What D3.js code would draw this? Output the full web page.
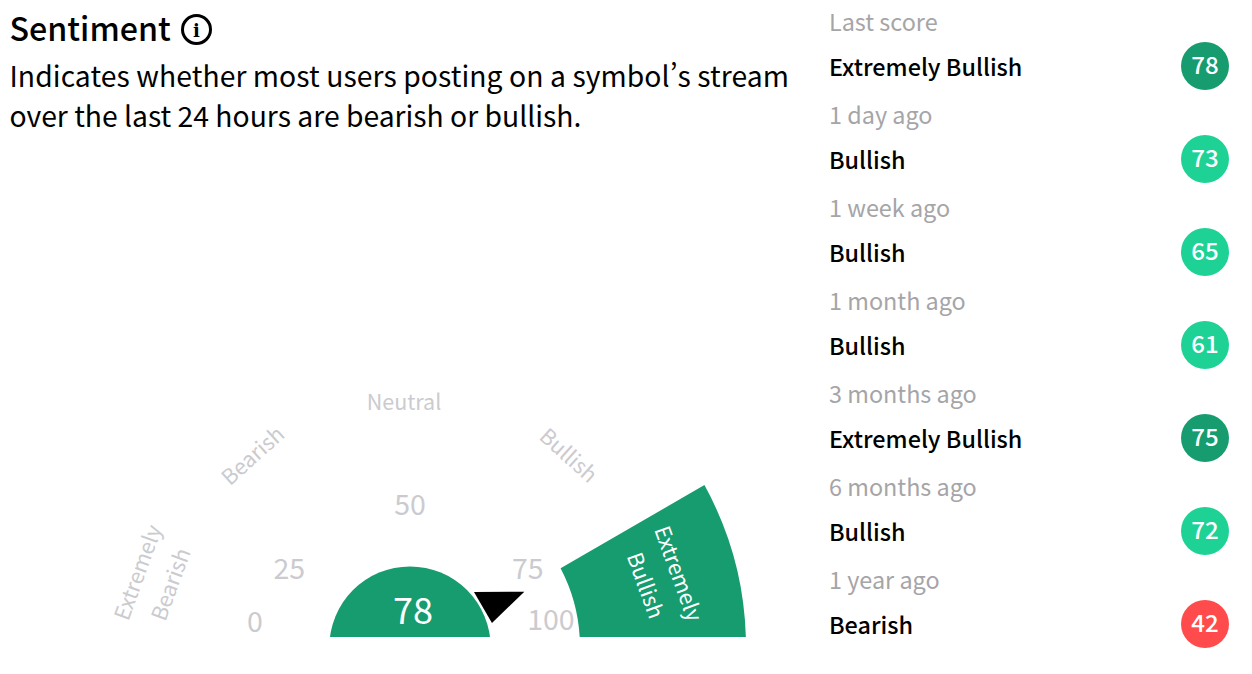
<!DOCTYPE html>
<html lang="en"><head><meta charset="utf-8">
<script src="https://cdn.jsdelivr.net/npm/d3@7/dist/d3.min.js"></script>
<style>html,body{margin:0;padding:0;background:#fff}svg{display:block}text{font-family:"Noto Sans CJK SC","Noto Sans",sans-serif;font-variant-east-asian:proportional-width}</style>
</head><body><svg id="c" width="1252" height="674"></svg>
<script>
const title = "Sentiment";
const subtitle = ["Indicates whether most users posting on a symbol’s stream","over the last 24 hours are bearish or bullish."];
const score = 78;
const activeBand = 4;
const bandNames = [["Extremely","Bearish"],["Bearish"],["Neutral"],["Bullish"],["Extremely","Bullish"]];
const bandEdges = [-90,-60,-20,20,60,90];
const tickValues = [0,25,50,75,100];
const tickAngles = [-81,-57,0,56.3,79];
const periods = ["Last score","1 day ago","1 week ago","1 month ago","3 months ago","6 months ago","1 year ago"];
const ratings = ["Extremely Bullish","Bullish","Bullish","Bullish","Extremely Bullish","Bullish","Bearish"];
const scores = [78,73,65,61,75,72,42];
const ratingColor = d3.scaleOrdinal().domain(["Extremely Bullish","Bullish","Bearish"]).range(["#169c6e","#1ed296","#ff4b4b"]);

const svg = d3.select("#c");
const rad = d => d*Math.PI/180;
const cx = 410, cy = 647, baseY = 637, rIn = 170, rOut = 336;
const defs = svg.append("defs");
defs.append("clipPath").attr("id","base").append("rect").attr("x",0).attr("y",0).attr("width",1252).attr("height",baseY);

svg.append("text").attr("x",9.5).attr("y",41).attr("font-size",32.2).attr("font-weight",500).attr("fill","#000").text(title);
svg.append("circle").attr("cx",196.5).attr("cy",29.5).attr("r",14).attr("fill","none").attr("stroke","#000").attr("stroke-width",3);
svg.append("text").attr("x",196.5).attr("y",36.5).attr("text-anchor","middle").attr("font-size",18).attr("font-weight",700).style("font-family","'DejaVu Serif'").text("i");
svg.selectAll(".sub").data(subtitle).join("text").attr("class","sub").attr("x",9.5).attr("y",(d,i)=>87+i*39.5).attr("font-size",28.3).attr("letter-spacing",(d,i)=>i===0?0.07:0).attr("fill","#000").text(d=>d);

const gauge = svg.append("g").attr("clip-path","url(#base)");
const g = gauge.append("g").attr("transform",`translate(${cx},${cy})`);
const arc = d3.arc().innerRadius(rIn).outerRadius(rOut).padAngle(0.0412).padRadius(340);
g.append("path").attr("fill",ratingColor("Extremely Bullish"))
 .attr("d",arc({startAngle:rad(bandEdges[activeBand]),endAngle:rad(bandEdges[activeBand+1])}));
g.append("path").attr("fill",ratingColor("Extremely Bullish"))
 .attr("d",d3.arc().innerRadius(0).outerRadius(80.6)({startAngle:-Math.PI/2,endAngle:Math.PI/2}));
g.append("text").attr("x",3).attr("y",-23).attr("text-anchor","middle").attr("font-size",36).attr("fill","#fff").text(score);

// needle
const needleAngle = 61.5;
const pol = (r,a)=>[r*Math.sin(rad(a)),-r*Math.cos(rad(a))];
g.append("path").attr("fill","#000").attr("d",d3.line()([pol(84.4,needleAngle-12.2),pol(127,needleAngle+2.7),pol(85.4,needleAngle+12.2)])+"Z");

// ticks
const tickR = [157,144,142,141.5,143.5];
g.selectAll(".tick").data(tickValues).join("text").attr("class","tick")
 .attr("x",(d,i)=>pol(tickR[i],tickAngles[i])[0])
 .attr("y",(d,i)=>pol(tickR[i],tickAngles[i])[1]+10)
 .attr("text-anchor","middle").attr("font-size",28.5).attr("fill","#cbcbcf").text(d=>d);

// band names
const nameR = [264,247,244,248,260];
const nameA = [-75,-39.4,-1.4,39.6,75];
const nameRot = [-70,-42,0,42,70];
const lh = 35;
bandNames.forEach((lines,i)=>{
  const p = pol(nameR[i],nameA[i]);
  const t = g.append("text").attr("transform",`translate(${p[0]},${p[1]}) rotate(${nameRot[i]})`)
    .attr("text-anchor","middle").attr("font-size",21.5)
    .attr("fill",i===activeBand?"#fff":"#cbcbcf");
  lines.forEach((s,j)=>t.append("tspan").attr("x",0).attr("y",(j-(lines.length-1)/2)*lh+7).text(s));
});

// right side
const row = svg.selectAll(".row").data(periods).join("g").attr("class","row").attr("transform",(d,i)=>`translate(0,${i*93})`);
row.append("text").attr("x",829).attr("y",30.5).attr("font-size",23.4).attr("fill","#a5a5a8").text(d=>d);
row.append("text").attr("x",829).attr("y",76).attr("font-size",23.4).attr("font-weight",500).attr("fill","#000").text((d,i)=>ratings[i]);
row.append("circle").attr("cx",1205).attr("cy",66).attr("r",24).attr("fill",(d,i)=>ratingColor(ratings[i]));
row.append("text").attr("x",1205).attr("y",74).attr("text-anchor","middle").attr("font-size",24).attr("font-weight",500).attr("fill","#fff").text((d,i)=>scores[i]);
</script></body></html>
